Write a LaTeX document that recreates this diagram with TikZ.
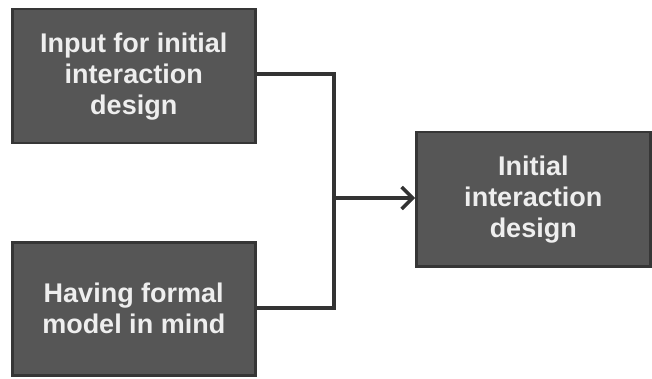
\documentclass[tikz,border=0pt]{standalone}
\usepackage{fontspec}
\setmainfont{Liberation Sans}
\usetikzlibrary{arrows.meta}
\definecolor{boxfill}{HTML}{565656}
\definecolor{boxedge}{HTML}{363636}
\definecolor{linec}{HTML}{333333}
\definecolor{txt}{HTML}{EEEEEE}
\tikzset{
  blockbox/.style={draw=boxedge, line width=2.5pt, fill=boxfill, anchor=north west,
    text=txt, font=\bfseries\fontsize{27}{31}\selectfont, align=center, inner sep=0pt},
  conn/.style={draw=linec, line width=3.5pt},
}
\begin{document}
\begin{tikzpicture}[x=1pt,y=-1pt]
\useasboundingbox (0,0) rectangle (652,379);
\node[blockbox, minimum width=243pt, minimum height=134pt] (in) at (11,8) {Input for initial\\interaction\\design};
\node[blockbox, minimum width=243pt, minimum height=133pt] (hf) at (11,241) {Having formal\\model in mind};
\node[blockbox, minimum width=234pt, minimum height=134pt] (out) at (415,131) {Initial\\interaction\\design};
\coordinate (j) at (334,198);
\draw[conn, line join=miter] (in.east |- 0,74) -| (334,308) -- (hf.east |- 0,308);
\draw[conn, -{Straight Barb[length=11pt,width=22pt,line width=3.5pt]}] (j) -- (out.west |- j);
\end{tikzpicture}
\end{document}
